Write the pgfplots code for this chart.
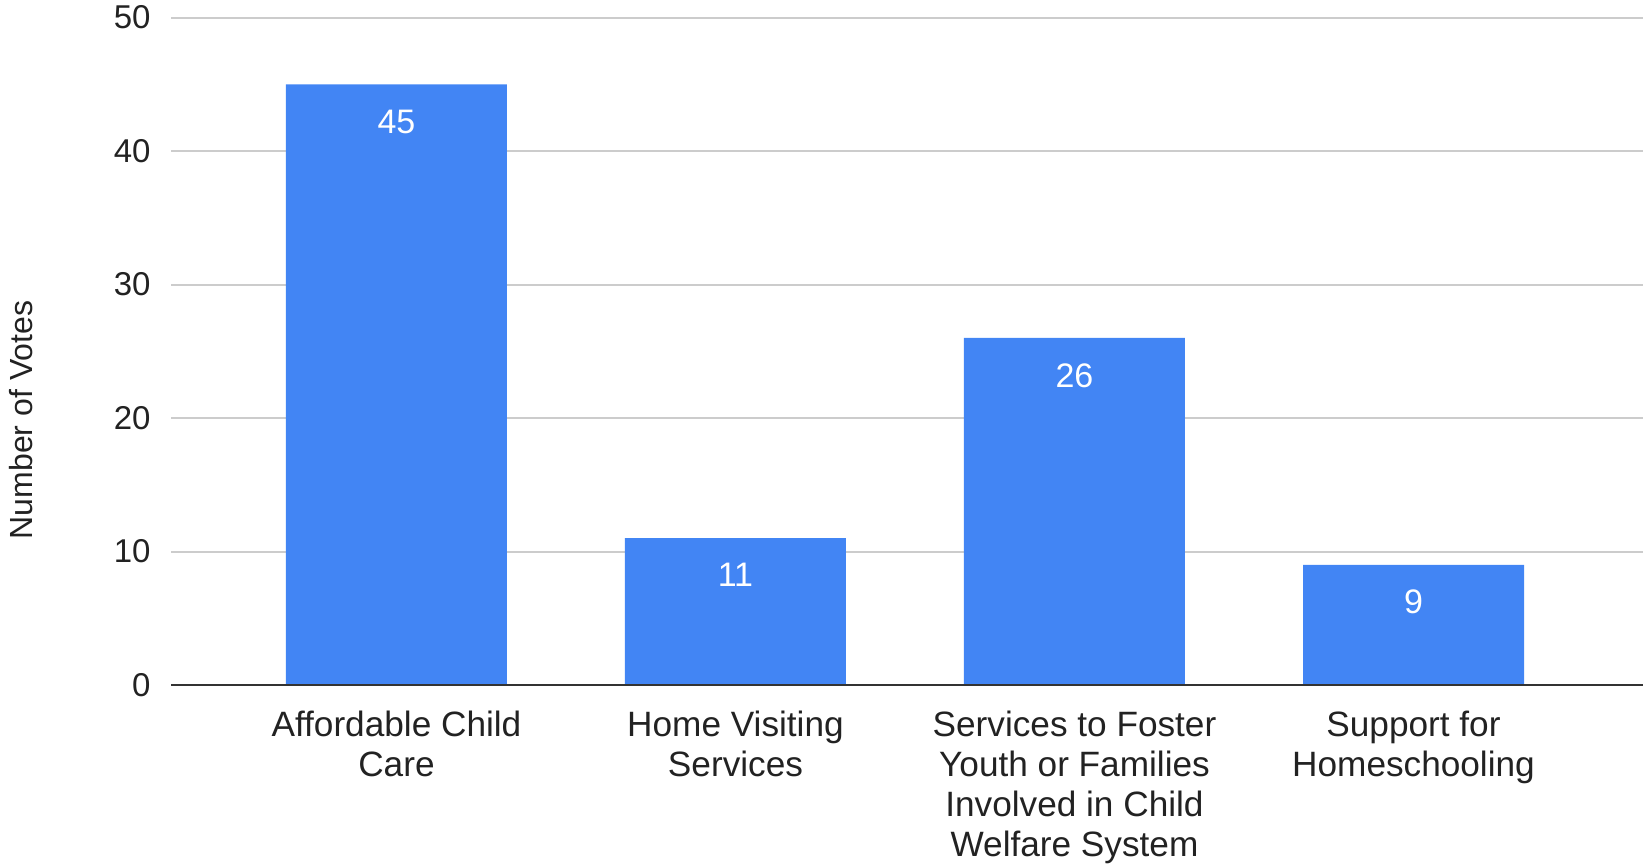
\documentclass[border=0pt]{standalone}
\usepackage{fontspec}
\setmainfont{Liberation Sans}
\usepackage{pgfplots}
\pgfplotsset{compat=1.18}
\definecolor{barblue}{HTML}{4285F4}
\definecolor{gridgray}{HTML}{CCCCCC}
\definecolor{axisdark}{HTML}{333333}
\definecolor{txt}{HTML}{222222}
\begin{document}
\begin{tikzpicture}
\useasboundingbox (0,0) rectangle (821.5pt,431.5pt);
\begin{axis}[
  at={(85.5pt,89pt)}, anchor=south west,
  scale only axis,
  width=736pt, height=333.75pt,
  xmin=-0.665, xmax=3.677,
  ymin=0, ymax=50,
  ytick={0,10,20,30,40,50},
  xtick={0,1,2,3},
  xticklabels={{Affordable Child\\Care},{Home Visiting\\Services},{Services to Foster\\Youth or Families\\Involved in Child\\Welfare System},{Support for\\Homeschooling}},
  axis line style={draw=none},
  major tick length=0pt,
  ymajorgrids,
  grid style={gridgray, line width=1pt},
  /pgf/number format/assume math mode=true,
  yticklabel style={anchor=east, inner sep=0pt, xshift=-10pt, text=txt, font=\fontsize{16.5}{20}\selectfont},
  xticklabel style={anchor=north, inner sep=0pt, yshift=-13pt, align=center, text=txt, font=\fontsize{17.6}{19.85}\selectfont},
  ybar, bar width=110.5pt,
  nodes near coords,
  every node near coord/.append style={anchor=north, inner sep=0pt, yshift=-12.5pt, text=white, font=\fontsize{17}{20}\selectfont},
]
\addplot[fill=barblue, draw=none] coordinates {(0,45) (1,11) (2,26) (3,9)};
\draw[axisdark, line width=1pt] (axis cs:-0.665,0) -- (axis cs:3.677,0);
\end{axis}
\node[rotate=90, inner sep=0pt, text=txt, font=\fontsize{16}{20}\selectfont] at (10.75pt,221.5pt) {Number of Votes};
\end{tikzpicture}
\end{document}
